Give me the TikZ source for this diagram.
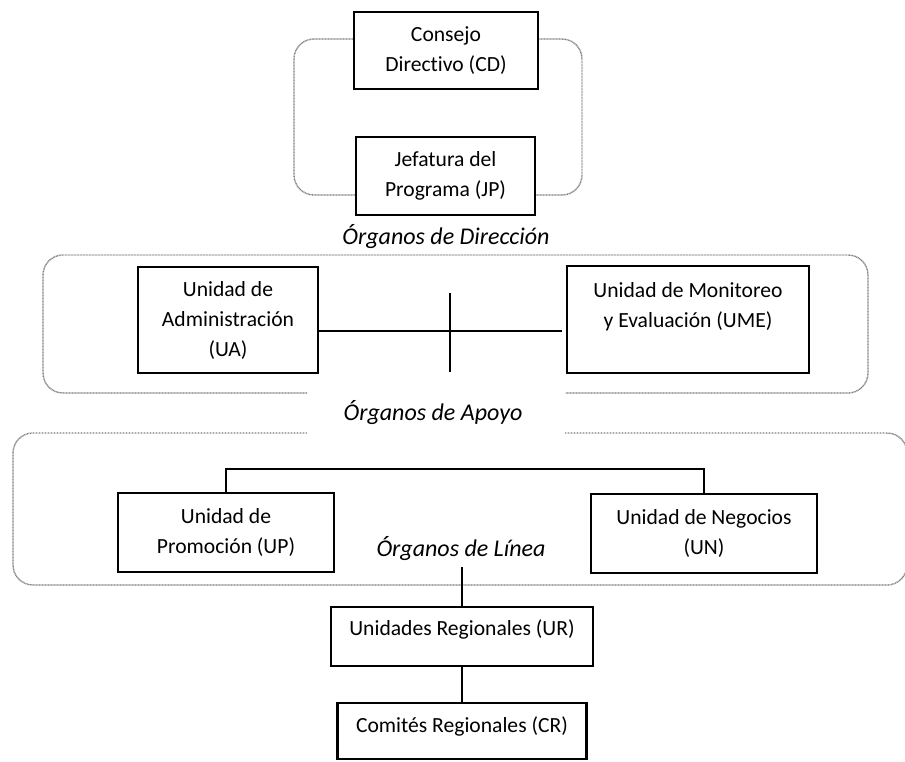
\documentclass[tikz,border=0pt]{standalone}
\usepackage{fontspec}
\setmainfont[Ligatures={NoCommon}]{Carlito}
\begin{document}
\begin{tikzpicture}[x=1pt,y=-1pt,
  box/.style={draw=black, line width=2.8pt, fill=white, inner sep=0pt, align=center,
    font=\fontsize{21.6}{30}\selectfont},
  onebox/.style={draw=black, line width=2.8pt, fill=white, inner xsep=0pt, inner ysep=0pt,
    font=\fontsize{21.6}{30}\selectfont},
  grp/.style={draw=black!50, line width=1.4pt, dash pattern=on 0.9pt off 0.6pt, rounded corners=20pt},
  conn/.style={draw=black, line width=1.1pt},
  lab/.style={font=\fontsize{24}{28}\selectfont\itshape, inner sep=0pt}]
\useasboundingbox (0,0) rectangle (905,762);

% group frames
\draw[grp] (294,39) rectangle (582,195);
\draw[grp] (307,393) -| (43,255) -| (868,393) -- (565,393);
\draw[grp] (565,433) -| (907,585) -| (13,433) -- (307,433);

% boxes
\node[box, minimum width=184pt, minimum height=77pt] (cd) at (446,50.5) {Consejo\\Directivo (CD)};
\node[box, minimum width=179pt, minimum height=78pt] (jp) at (445.5,176) {Jefatura del\\Programa (JP)};
\node[box, minimum width=180pt, minimum height=106pt] (ua) at (228,320) {Unidad de\\Administración\\(UA)};
\node[box, minimum width=242pt, minimum height=107pt] (ume) at (688,319.5) {Unidad de Monitoreo\\y Evaluación (UME)\\\mbox{}};
\node[box, minimum width=216pt, minimum height=79pt] (up) at (226,532.5) {Unidad de\\Promoción (UP)};
\node[box, minimum width=226pt, minimum height=79pt] (un) at (704,533.5) {Unidad de Negocios\\(UN)};
\node[onebox, minimum width=262pt, text height=28pt, text depth=31pt] (ur) at (462,636.5) {Unidades Regionales (UR)};
\node[onebox, minimum width=249pt, text height=29pt, text depth=27pt] (cr) at (462,731) {Comités Regionales (CR)};

% labels
\node[lab] (ld) at (446,237) {Órganos de Dirección};
\node[lab] (la) at (433,413) {Órganos de Apoyo};
\node[lab] (ll) at (461,549) {Órganos de Línea};

% connectors
\coordinate (mh) at (562,331);
\draw[conn] (ua.east |- mh) -- (mh);
\coordinate (vt) at (450,293);
\coordinate (vb) at (450,372);
\draw[conn] (vt) -- (vb);
\coordinate (lh) at (0,469);
\draw[conn] (up.north) |- (lh -| un.north) -- (un.north);
\coordinate (lt) at (462,567);
\draw[conn] (lt) -- (ur.north);
\draw[conn] (ur.south) -- (ur.south |- cr.north);
\end{tikzpicture}
\end{document}
